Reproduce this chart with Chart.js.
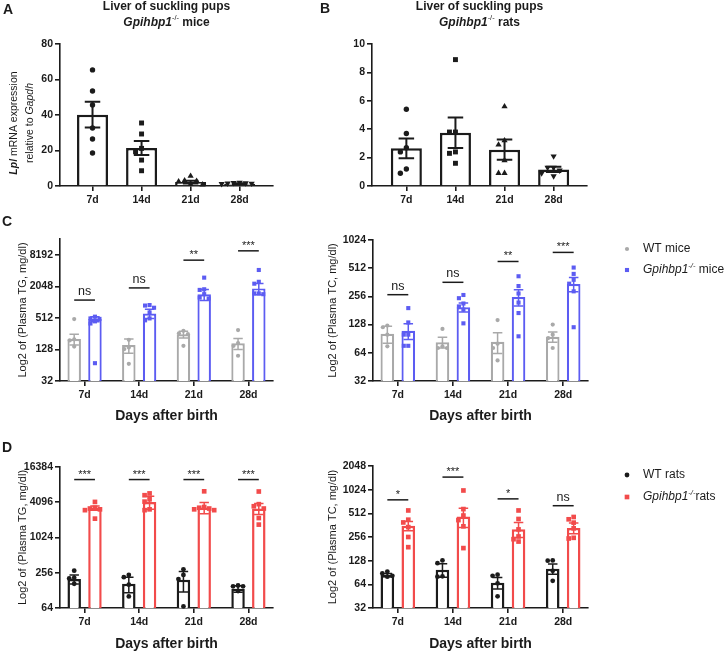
<!DOCTYPE html>
<html lang="en">
<head>
<meta charset="utf-8">
<title>Gpihbp1 suckling pups</title>
<script src="https://cdn.jsdelivr.net/npm/chart.js@4.4.1/dist/chart.umd.min.js"></script>
<style>
  body { margin: 0; background: #fff; }
  #figure { position: relative; width: 724px; height: 654px; font-family: 'Liberation Sans', Arial, sans-serif; }
  .box { position: absolute; }
  .tag { position: absolute; font-weight: bold; font-size: 14px; line-height: 16px; color: #1b1b1b; }
</style>
</head>
<body>
<div id="figure">
  <div class="box" style="left:0;top:0;width:340px;height:210px"><canvas id="chart-a"></canvas></div>
  <div class="box" style="left:340px;top:0;width:384px;height:210px"><canvas id="chart-b"></canvas></div>
  <div class="box" style="left:0;top:210px;width:318px;height:230px"><canvas id="chart-c1"></canvas></div>
  <div class="box" style="left:318px;top:210px;width:406px;height:230px"><canvas id="chart-c2"></canvas></div>
  <div class="box" style="left:0;top:440px;width:318px;height:214px"><canvas id="chart-d1"></canvas></div>
  <div class="box" style="left:318px;top:440px;width:406px;height:214px"><canvas id="chart-d2"></canvas></div>
  <div class="tag" style="left:3px;top:1px">A</div>
  <div class="tag" style="left:320px;top:0px">B</div>
  <div class="tag" style="left:2px;top:213px">C</div>
  <div class="tag" style="left:2px;top:439px">D</div>
</div>
<script>
const FAMILY = "'Liberation Sans', Arial, Helvetica, sans-serif";
Chart.defaults.font.family = FAMILY;
Chart.defaults.animation = false;

const INK = '#1b1b1b';
const GREY = '#a9a9a9';
const BLUE = '#5c5cf2';
const RED = '#f24b4b';

const days = ['7d', '14d', '21d', '28d'];

// A - Lpl mRNA relative to Gapdh, Gpihbp1-/- mice
const mrnaMiceMean = [40.2, 21.4, 2.2, 1.3];
const mrnaMiceSem = [7.3, 3.9, 0.8, 0.3];
const mrnaMicePoints = [
  [65.4, 53.5, 45.6, 32.7, 26.5, 18.6],
  [35.5, 29.3, 21.2, 19.3, 14.6, 8.6],
  [5.6, 3.0, 2.8, 2.5, 1.0, 0.8],
  [2.0, 1.8, 1.6, 1.5, 1.4, 1.2]
];
const mrnaMiceTicks = [0, 20, 40, 60, 80];

// B - Lpl mRNA relative to Gapdh, Gpihbp1-/- rats
const mrnaRatsMean = [2.65, 3.75, 2.56, 1.17];
const mrnaRatsSem = [0.69, 1.07, 0.72, 0.18];
const mrnaRatsPoints = [
  [5.4, 3.7, 2.7, 2.4, 1.2, 0.9],
  [8.9, 3.8, 3.8, 2.4, 2.3, 1.6],
  [5.6, 3.2, 2.9, 1.8, 0.9, 0.9],
  [2.1, 1.3, 1.3, 1.1, 0.9, 0.7]
];
const mrnaRatsTicks = [0, 2, 4, 6, 8, 10];

// C left - plasma TG in mice, mg/dl
const tgWtMiceMean = [202, 155, 249, 168];
const tgWtMiceSem = [47, 47, 37, 40];
const tgWtMicePoints = [[485, 200, 190, 145], [195, 140, 130, 68], [290, 260, 250, 150], [300, 170, 150, 97]];
const tgKoMiceMean = [485, 621, 1440, 1870];
const tgKoMiceSem = [52, 124, 340, 450];
const tgKoMicePoints = [
  [540, 500, 490, 440, 400, 70],
  [900, 880, 800, 650, 500, 460],
  [3000, 1800, 1750, 1450, 1250, 1200],
  [4200, 2500, 2300, 1500, 1500, 1450]
];
const tgMiceSig = ['ns', 'ns', '**', '***'];
const tgMiceSigAt = [1120, 1910, 6470, 9740];
const tgMiceTicks = [32, 128, 512, 2048, 8192];

// C right - plasma TC in mice, mg/dl
const tcWtMiceMean = [102, 83, 84, 95];
const tcWtMiceSem = [21, 11, 21, 12];
const tcWtMicePoints = [[125, 120, 100, 75], [115, 75, 72, 72], [143, 80, 72, 53], [128, 100, 92, 72]];
const tcKoMiceMean = [110, 196, 252, 347];
const tcKoMiceSem = [21, 22, 50, 60];
const tcKoMicePoints = [
  [192, 135, 100, 100, 76, 76],
  [265, 245, 215, 200, 185, 132],
  [420, 330, 275, 220, 170, 96],
  [520, 445, 385, 350, 290, 120]
];
const tcMiceSig = ['ns', 'ns', '**', '***'];
const tcMiceSigAt = [267, 362, 604, 755];
const tcMiceTicks = [32, 64, 128, 256, 512, 1024];

// D left - plasma TG in rats, mg/dl
const tgWtRatsMean = [200, 166, 194, 136];
const tgWtRatsSem = [35, 49, 74, 17];
const tgWtRatsPoints = [[278, 210, 205, 166], [235, 215, 160, 101], [293, 235, 200, 68], [155, 150, 150, 125]];
const tgKoRatsMean = [3260, 4150, 3330, 3210];
const tgKoRatsSem = [260, 1040, 730, 690];
const tgKoRatsPoints = [
  [4150, 3300, 3200, 3100, 3000, 2150],
  [5800, 5400, 4600, 4200, 3100, 3000],
  [6300, 3400, 3300, 3200, 3100, 3000],
  [6250, 3800, 3500, 3200, 2200, 1700]
];
const tgRatsSig = ['***', '***', '***', '***'];
const tgRatsSigAt = [10000, 10000, 10000, 10000];
const tgRatsTicks = [64, 256, 1024, 4096, 16384];

// D right - plasma TC in rats, mg/dl
const tcWtRatsMean = [84, 98, 67, 101];
const tcWtRatsSem = [4, 19, 11, 15];
const tcWtRatsPoints = [[93, 88, 82, 80], [129, 119, 81, 80], [85, 82, 66, 45], [129, 128, 95, 71]];
const tcKoRatsMean = [355, 467, 322, 333];
const tcKoRatsSem = [47, 129, 69, 52];
const tcKoRatsPoints = [
  [557, 425, 392, 342, 256, 190],
  [1000, 580, 480, 420, 350, 185],
  [557, 434, 320, 260, 240, 224],
  [460, 430, 390, 330, 250, 245]
];
const tcRatsSig = ['*', '***', '*', 'ns'];
const tcRatsSigAt = [760, 1480, 782, 640];
const tcRatsTicks = [32, 64, 128, 256, 512, 1024, 2048];

// rich text: segments are [text, flags] with b = bold, i = italic, s = superscript
function segFont(flags, size) {
  const s = flags.includes('s') ? size * 0.62 : size;
  return (flags.includes('i') ? 'italic ' : '') + (flags.includes('b') ? 'bold ' : '') + s + 'px ' + FAMILY;
}

function drawRich(ctx, segs, x, y, size, align) {
  ctx.save();
  ctx.textBaseline = 'middle';
  ctx.textAlign = 'left';
  let total = 0;
  const widths = segs.map(([t, f]) => {
    ctx.font = segFont(f, size);
    const w = ctx.measureText(t).width;
    total += w;
    return w;
  });
  let cx = align === 'left' ? x : x - total / 2;
  segs.forEach(([t, f], k) => {
    ctx.font = segFont(f, size);
    ctx.fillText(t, cx, f.includes('s') ? y - size * 0.38 : y);
    cx += widths[k];
  });
  ctx.restore();
}

// error bars (mean +/- SEM) drawn right after each bar dataset
const semBars = {
  id: 'semBars',
  afterDatasetDraw(chart, args) {
    const ds = chart.data.datasets[args.index];
    if (!ds.sem) return;
    const y = chart.scales.y, ctx = chart.ctx;
    ctx.save();
    ctx.strokeStyle = ds.borderColor;
    ctx.lineWidth = ds.semWidth;
    args.meta.data.forEach((bar, i) => {
      const m = ds.data[i].y, s = ds.sem[i];
      const top = y.getPixelForValue(m + s);
      const bot = y.getPixelForValue(Math.max(m - s, y.min));
      const half = bar.width * ds.capFrac / 2;
      ctx.beginPath();
      ctx.moveTo(bar.x, top); ctx.lineTo(bar.x, bot);
      ctx.moveTo(bar.x - half, top); ctx.lineTo(bar.x + half, top);
      ctx.moveTo(bar.x - half, bot); ctx.lineTo(bar.x + half, bot);
      ctx.stroke();
    });
    ctx.restore();
  }
};

// titles, rich axis title, significance brackets, legend
const figureText = {
  id: 'figureText',
  afterDraw(chart, args, o) {
    const {ctx, chartArea: a, scales} = chart;
    ctx.save();
    ctx.fillStyle = INK;
    (o.title || []).forEach((line, k) => drawRich(ctx, line, (a.left + a.right) / 2, o.titleY[k], 12));
    if (o.yTitle) {
      ctx.save();
      ctx.translate(0, (a.top + a.bottom) / 2 + (o.yTitleShift || 0));
      ctx.rotate(-Math.PI / 2);
      o.yTitle.forEach((line, k) => drawRich(ctx, line, 0, o.yTitleX[k], 10.5));
      ctx.restore();
    }
    if (o.sig) {
      ctx.strokeStyle = INK;
      ctx.lineWidth = 1.5;
      ctx.textAlign = 'center';
      ctx.textBaseline = 'alphabetic';
      o.sig.labels.forEach((lab, i) => {
        const y = scales.y.getPixelForValue(o.sig.at[i]);
        const x1 = scales.x.getPixelForValue(i - o.sig.half);
        const x2 = scales.x.getPixelForValue(i + o.sig.half);
        ctx.beginPath(); ctx.moveTo(x1, y); ctx.lineTo(x2, y); ctx.stroke();
        const stars = lab.includes('*');
        ctx.font = (stars ? 11 : 12.5) + 'px ' + FAMILY;
        ctx.fillText(lab, (x1 + x2) / 2, y - (stars ? 2 : 5));
      });
    }
    if (o.legend) {
      o.legend.rows.forEach(row => {
        ctx.fillStyle = row.color;
        Chart.helpers.drawPoint(ctx, {pointStyle: row.shape, radius: row.r, rotation: 0, borderWidth: 0}, o.legend.markerX, row.y);
        ctx.fillStyle = INK;
        drawRich(ctx, row.segs, o.legend.textX, row.y, 12, 'left');
      });
    }
    ctx.restore();
  }
};

// spread points sideways when they would overlap (like a column scatter)
function swarm(vals, cx, pxPerUnit, toPx, gap) {
  const placed = [];
  return vals.map(v => {
    const py = toPx(v);
    let k = 0, dx = 0;
    while (placed.some(p => Math.abs(p.py - py) < gap && Math.abs(p.dx - dx) < gap)) {
      k++;
      dx = (k % 2 ? -1 : 1) * Math.ceil(k / 2) * gap;
    }
    placed.push({py, dx});
    return {x: cx + dx / pxPerUnit, y: v};
  });
}

function buildPanel(id, p) {
  const canvas = document.getElementById(id);
  const box = canvas.parentNode.getBoundingClientRect();
  const plotW = box.width - p.yAxisW - p.padRight;
  const plotH = box.height - p.padTop - p.xAxisH;
  const pxPerUnit = plotW / (p.xMax - p.xMin);
  const toPx = p.log
    ? v => Math.log(v / p.yMin) / Math.log(p.yMax / p.yMin) * plotH
    : v => (v - p.yMin) / (p.yMax - p.yMin) * plotH;

  const n = p.groups.length;
  const datasets = [];
  p.groups.forEach((g, gi) => {
    const off = (gi - (n - 1) / 2) * p.catPct / n;
    datasets.push({
      type: 'bar', order: 2,
      data: g.mean.map((m, i) => ({x: i, y: m})),
      sem: g.sem, semWidth: p.semWidth, capFrac: p.capFrac,
      backgroundColor: '#ffffff', borderColor: g.color, borderWidth: p.barBorder, borderSkipped: 'start',
      categoryPercentage: p.catPct, barPercentage: p.barPct
    });
    g.points.forEach((vals, i) => {
      const mk = Array.isArray(g.marker) ? g.marker[i] : g.marker;
      datasets.push({
        type: 'scatter', order: 1, clip: false,
        data: swarm(vals, i + off, pxPerUnit, toPx, g.gap),
        pointStyle: mk.shape, rotation: mk.rot || 0, pointRadius: mk.r, pointHoverRadius: mk.r,
        backgroundColor: g.color, borderColor: g.color, borderWidth: 0
      });
    });
  });

  const axisLine = {display: true, color: INK, width: 1.6};
  const tickMarks = {display: true, drawOnChartArea: false, drawTicks: true, tickLength: 5, color: INK, lineWidth: 1.6, offset: false};

  return new Chart(canvas, {
    type: 'bar',
    data: {datasets},
    options: {
      responsive: true,
      maintainAspectRatio: false,
      animation: false,
      layout: {padding: {left: 0, top: p.padTop, right: p.padRight, bottom: 0}},
      plugins: {
        legend: {display: false},
        tooltip: {enabled: false},
        figureText: p.text || {}
      },
      scales: {
        x: {
          type: 'linear', min: p.xMin, max: p.xMax, bounds: 'data', offset: false,
          afterBuildTicks: s => { s.ticks = days.map((d, i) => ({value: i})); },
          afterFit: s => { s.height = p.xAxisH; },
          border: axisLine,
          grid: tickMarks,
          ticks: {font: {size: 10.5, weight: 'bold'}, color: INK, padding: 3, maxRotation: 0, autoSkip: false, callback: v => days[v]},
          title: p.xTitle
            ? {display: true, text: p.xTitle, color: INK, font: {size: 14, weight: 'bold'}, padding: {top: 0, bottom: p.xTitlePad}}
            : {display: false}
        },
        y: {
          type: p.log ? 'logarithmic' : 'linear', min: p.yMin, max: p.yMax, bounds: 'data',
          afterBuildTicks: s => { s.ticks = p.yTicks.map(v => ({value: v})); },
          afterFit: s => { s.width = p.yAxisW; },
          border: axisLine,
          grid: tickMarks,
          ticks: {font: {size: 10.5, weight: 'bold'}, color: INK, padding: 2, autoSkip: false, callback: v => String(v)},
          title: p.yTitle
            ? {display: true, text: p.yTitle, color: INK, font: {size: 11}, padding: {top: p.yTitlePad, bottom: 0}}
            : {display: false}
        }
      }
    },
    plugins: [semBars, figureText]
  });
}

const pupMarkers = [
  {shape: 'circle', r: 2.7},
  {shape: 'rect', r: 3.5},
  {shape: 'triangle', r: 3.6},
  {shape: 'triangle', r: 3.6, rot: 180}
];

buildPanel('chart-a', {
  yAxisW: 60, padTop: 44, padRight: 67, xAxisH: 24,
  xMin: -0.663, xMax: 3.68, yMin: 0, yMax: 80, yTicks: mrnaMiceTicks,
  catPct: 0.8, barPct: 0.79, barBorder: 2.5, semWidth: 2, capFrac: 0.5,
  groups: [{mean: mrnaMiceMean, sem: mrnaMiceSem, points: mrnaMicePoints, color: INK, marker: pupMarkers, gap: 6}],
  text: {
    title: [[['Liver of suckling pups', 'b']], [['Gpihbp1', 'bi'], ['-/-', 's'], [' mice', 'b']]],
    titleY: [7, 23],
    yTitle: [[['Lpl', 'bi'], [' mRNA expression', '']], [['relative to ', ''], ['Gapdh', 'i']]],
    yTitleX: [14.5, 30.5],
    yTitleShift: 8
  }
});

buildPanel('chart-b', {
  yAxisW: 32, padTop: 44, padRight: 137, xAxisH: 24,
  xMin: -0.70, xMax: 3.68, yMin: 0, yMax: 10, yTicks: mrnaRatsTicks,
  catPct: 0.8, barPct: 0.79, barBorder: 2.5, semWidth: 2, capFrac: 0.5,
  groups: [{mean: mrnaRatsMean, sem: mrnaRatsSem, points: mrnaRatsPoints, color: INK, marker: pupMarkers, gap: 6}],
  text: {
    title: [[['Liver of suckling pups', 'b']], [['Gpihbp1', 'bi'], ['-/-', 's'], [' rats', 'b']]],
    titleY: [7, 23]
  }
});

const pairLayout = {catPct: 0.76, barPct: 0.65, barBorder: 2.2, semWidth: 1.5, capFrac: 0.7, xMin: -0.45, xMax: 3.45, log: true};

buildPanel('chart-c1', Object.assign({}, pairLayout, {
  yAxisW: 60, padTop: 29, padRight: 45, xAxisH: 59,
  yMin: 32, yMax: 16384, yTicks: tgMiceTicks,
  yTitle: 'Log2 of (Plasma TG, mg/dl)', yTitlePad: 16.4,
  xTitle: 'Days after birth', xTitlePad: 15.6,
  groups: [
    {mean: tgWtMiceMean, sem: tgWtMiceSem, points: tgWtMicePoints, color: GREY, marker: {shape: 'circle', r: 2.1}, gap: 4.5},
    {mean: tgKoMiceMean, sem: tgKoMiceSem, points: tgKoMicePoints, color: BLUE, marker: {shape: 'rect', r: 2.9}, gap: 4.5}
  ],
  text: {sig: {labels: tgMiceSig, at: tgMiceSigAt, half: 0.19}}
}));

buildPanel('chart-c2', Object.assign({}, pairLayout, {
  yAxisW: 55, padTop: 30, padRight: 136, xAxisH: 59,
  yMin: 32, yMax: 1024, yTicks: tcMiceTicks,
  yTitle: 'Log2 of (Plasma TC, mg/dl)', yTitlePad: 8.4,
  xTitle: 'Days after birth', xTitlePad: 15.6,
  groups: [
    {mean: tcWtMiceMean, sem: tcWtMiceSem, points: tcWtMicePoints, color: GREY, marker: {shape: 'circle', r: 2.1}, gap: 4.5},
    {mean: tcKoMiceMean, sem: tcKoMiceSem, points: tcKoMicePoints, color: BLUE, marker: {shape: 'rect', r: 2.9}, gap: 4.5}
  ],
  text: {
    sig: {labels: tcMiceSig, at: tcMiceSigAt, half: 0.19},
    legend: {markerX: 309, textX: 325, rows: [
      {y: 39, color: GREY, shape: 'circle', r: 2.1, segs: [['WT mice', '']]},
      {y: 60, color: BLUE, shape: 'rect', r: 2.9, segs: [['Gpihbp1', 'i'], ['-/-', 'is'], [' mice', '']]}
    ]}
  }
}));

buildPanel('chart-d1', Object.assign({}, pairLayout, {
  yAxisW: 60, padTop: 27, padRight: 45, xAxisH: 46,
  yMin: 64, yMax: 16384, yTicks: tgRatsTicks, barBorder: 2.5,
  yTitle: 'Log2 of (Plasma TG, mg/dl)', yTitlePad: 16.4,
  xTitle: 'Days after birth', xTitlePad: 1.6,
  groups: [
    {mean: tgWtRatsMean, sem: tgWtRatsSem, points: tgWtRatsPoints, color: INK, marker: {shape: 'circle', r: 2.4}, gap: 5},
    {mean: tgKoRatsMean, sem: tgKoRatsSem, points: tgKoRatsPoints, color: RED, marker: {shape: 'rect', r: 3.3}, gap: 5}
  ],
  text: {sig: {labels: tgRatsSig, at: tgRatsSigAt, half: 0.19}}
}));

buildPanel('chart-d2', Object.assign({}, pairLayout, {
  yAxisW: 55, padTop: 26, padRight: 136, xAxisH: 46,
  yMin: 32, yMax: 2048, yTicks: tcRatsTicks, barBorder: 2.5,
  yTitle: 'Log2 of (Plasma TC, mg/dl)', yTitlePad: 8.4,
  xTitle: 'Days after birth', xTitlePad: 1.6,
  groups: [
    {mean: tcWtRatsMean, sem: tcWtRatsSem, points: tcWtRatsPoints, color: INK, marker: {shape: 'circle', r: 2.4}, gap: 5},
    {mean: tcKoRatsMean, sem: tcKoRatsSem, points: tcKoRatsPoints, color: RED, marker: {shape: 'rect', r: 3.3}, gap: 5}
  ],
  text: {
    sig: {labels: tcRatsSig, at: tcRatsSigAt, half: 0.19},
    legend: {markerX: 309, textX: 325, rows: [
      {y: 35, color: INK, shape: 'circle', r: 2.4, segs: [['WT rats', '']]},
      {y: 57, color: RED, shape: 'rect', r: 3.3, segs: [['Gpihbp1', 'i'], ['-/-', 'is'], ['rats', '']]}
    ]}
  }
}));
</script>
</body>
</html>
